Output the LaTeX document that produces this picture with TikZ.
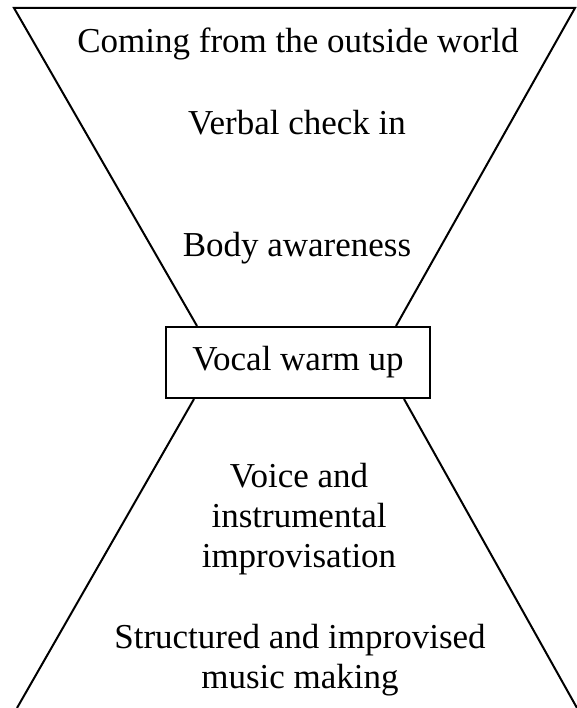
\documentclass[tikz,border=0pt]{standalone}
\usepackage{fontspec}
\setmainfont{Liberation Serif}
\usetikzlibrary{calc}
\tikzset{
  stage/.style   = {font=\fontsize{35}{40}\selectfont,inner sep=0pt,
                    align=center,anchor=base},
  warmbox/.style = {draw,line width=2pt,fill=white,inner sep=0pt,
                    minimum width=264pt,minimum height=71pt,
                    font=\fontsize{35}{40}\selectfont},
  funnel/.style  = {line width=2pt},
}

\begin{document}
\begin{tikzpicture}[x=1pt,y=-1pt]
  \useasboundingbox (0,0) rectangle (577,708);
  \clip (0,0) rectangle (577,708);

  % corners of the funnel
  \coordinate (tl) at (14,8);
  \coordinate (tr) at (575,8);
  \coordinate (bl) at (17,708);
  \coordinate (br) at (577,708);

  % centre box
  \node[warmbox] (warm) at (298,362.5) {Vocal warm up};

  % upper and lower funnel
  \draw[funnel] ($(warm.north west)+(32,0)$) -- (tl) -- (tr)
        -- ($(warm.north east)+(-35,0)$);
  \draw[funnel] ($(warm.south west)+(29,0)$) -- (bl);
  \draw[funnel] ($(warm.south east)+(-27,0)$) -- (br);

  % stages
  \node[stage] (outside) at (298,53) {Coming from the outside world};
  \node[stage] (checkin) at (297,135) {Verbal check in};
  \node[stage] (body)    at (297,256) {Body awareness};
  \node[stage] (improv)  at (299,567)
        {Voice and\\ instrumental\\ improvisation};
  \node[stage] (music)   at (300,688)
        {Structured and improvised\\ music making};
\end{tikzpicture}
\end{document}
